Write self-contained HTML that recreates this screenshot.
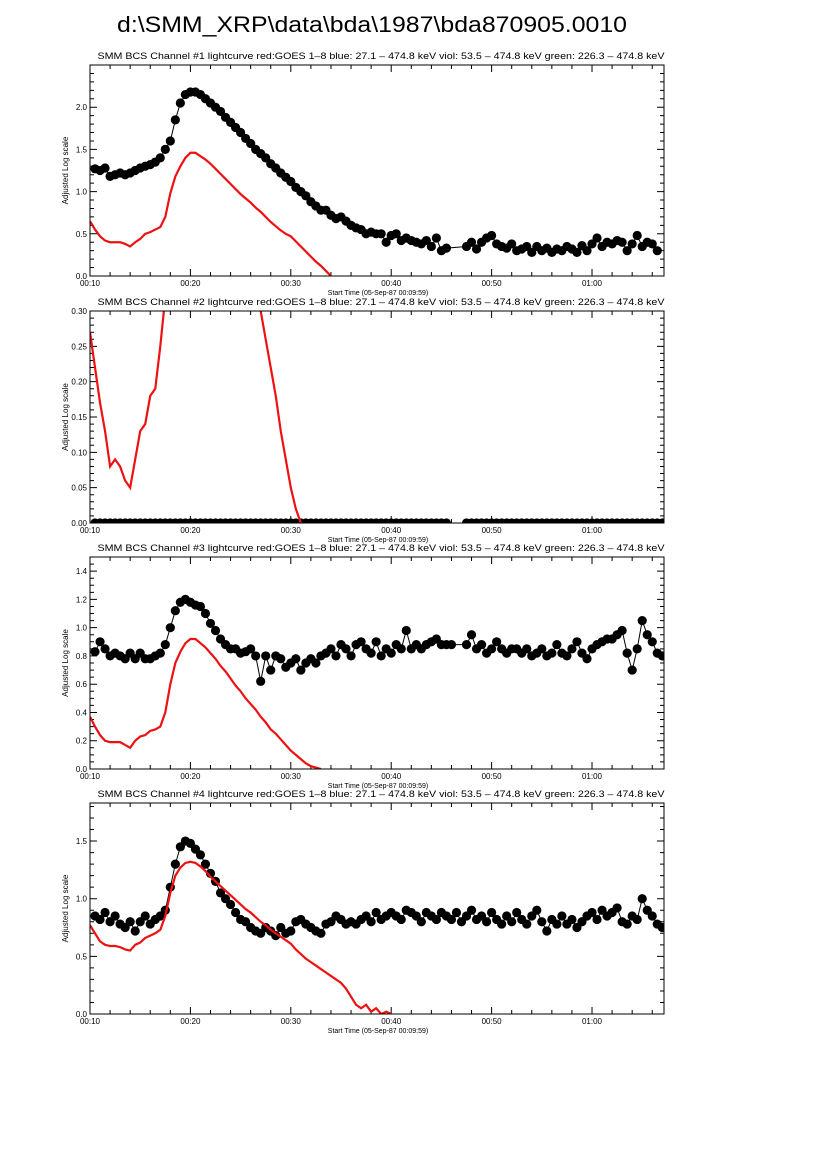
<!DOCTYPE html>
<html><head><meta charset="utf-8"><style>
html,body{margin:0;padding:0;background:#fff;}
svg{display:block;font-family:"Liberation Sans",sans-serif;}
</style></head><body>
<svg id="fig" width="826" height="1169" viewBox="0 0 826 1169">
<text x="372" y="32" font-size="22" text-anchor="middle" textLength="510" lengthAdjust="spacingAndGlyphs">d:\SMM_XRP\data\bda\1987\bda870905.0010</text>
</svg>
<script>
// ---- data (time in minutes after 00:00, values = adjusted log scale) ----
const blackT1 = [10.5,11,11.5,12,12.5,13,13.5,14,14.5,15,15.5,16,16.5,17,17.5,18,18.5,19,19.5,20,20.5,21,21.5,22,22.5,23,23.5,24,24.5,25,25.5,26,26.5,27,27.5,28,28.5,29,29.5,30,30.5,31,31.5,32,32.5,33,33.5,34,34.5,35,35.5,36,36.5,37,37.5,38,38.5,39,39.5,40,40.5,41,41.5,42,42.5,43,43.5,44,44.5,45,45.5,47.5,48,48.5,49,49.5,50,50.5,51,51.5,52,52.5,53,53.5,54,54.5,55,55.5,56,56.5,57,57.5,58,58.5,59,59.5,60,60.5,61,61.5,62,62.5,63,63.5,64,64.5,65,65.5,66,66.5];
const blackV1 = [1.27,1.25,1.28,1.18,1.2,1.22,1.2,1.22,1.25,1.28,1.3,1.32,1.35,1.4,1.5,1.6,1.85,2.05,2.15,2.18,2.18,2.15,2.1,2.05,2.0,1.95,1.88,1.82,1.76,1.7,1.63,1.57,1.5,1.45,1.4,1.33,1.28,1.22,1.17,1.12,1.05,1.0,0.95,0.88,0.83,0.78,0.78,0.72,0.68,0.7,0.65,0.6,0.57,0.55,0.5,0.52,0.5,0.5,0.4,0.48,0.5,0.42,0.45,0.42,0.4,0.38,0.42,0.35,0.45,0.3,0.33,0.35,0.4,0.32,0.4,0.45,0.48,0.38,0.35,0.33,0.38,0.3,0.32,0.35,0.28,0.35,0.3,0.33,0.28,0.32,0.3,0.35,0.32,0.28,0.36,0.3,0.38,0.45,0.35,0.4,0.38,0.42,0.4,0.3,0.38,0.48,0.35,0.4,0.38,0.3];
const redT1 = [10,10.5,11,11.5,12,12.5,13,13.5,14,14.5,15,15.5,16,16.5,17,17.5,18,18.5,19,19.5,20,20.5,21,21.5,22,22.5,23,23.5,24,24.5,25,25.5,26,26.5,27,27.5,28,28.5,29,29.5,30,30.5,31,31.5,32,32.5,33,33.5,34];
const redV1 = [0.65,0.55,0.47,0.42,0.40,0.40,0.40,0.38,0.35,0.40,0.44,0.50,0.52,0.55,0.58,0.70,0.98,1.18,1.30,1.40,1.46,1.46,1.42,1.38,1.33,1.27,1.21,1.15,1.09,1.03,0.97,0.92,0.87,0.81,0.76,0.70,0.64,0.59,0.54,0.50,0.47,0.41,0.35,0.29,0.23,0.17,0.12,0.06,0.0];

const blackT2 = [10.5,11,11.5,12,12.5,13,13.5,14,14.5,15,15.5,16,16.5,17,17.5,18,18.5,19,19.5,20,20.5,21,21.5,22,22.5,23,23.5,24,24.5,25,25.5,26,26.5,27,27.5,28,28.5,29,29.5,30,30.5,31,31.5,32,32.5,33,33.5,34,34.5,35,35.5,36,36.5,37,37.5,38,38.5,39,39.5,40,40.5,41,41.5,42,42.5,43,43.5,44,44.5,45,45.5,47.5,48,48.5,49,49.5,50,50.5,51,51.5,52,52.5,53,53.5,54,54.5,55,55.5,56,56.5,57,57.5,58,58.5,59,59.5,60,60.5,61,61.5,62,62.5,63,63.5,64,64.5,65,65.5,66,66.5,67];
const blackV2 = blackT2.map(() => 0);
const redT2 = [10,10.5,11,11.5,12,12.5,13,13.5,14,14.5,15,15.5,16,16.5,17,17.5,18,18.5,26.5,27,27.5,28,28.5,29,29.5,30,30.5,31];
const redV2 = [0.27,0.22,0.17,0.13,0.08,0.09,0.08,0.06,0.05,0.09,0.13,0.14,0.18,0.19,0.25,0.32,0.45,0.6,0.40,0.30,0.26,0.22,0.18,0.13,0.09,0.05,0.02,0.0];

const blackT3 = [10.5,11,11.5,12,12.5,13,13.5,14,14.5,15,15.5,16,16.5,17,17.5,18,18.5,19,19.5,20,20.5,21,21.5,22,22.5,23,23.5,24,24.5,25,25.5,26,26.5,27,27.5,28,28.5,29,29.5,30,30.5,31,31.5,32,32.5,33,33.5,34,34.5,35,35.5,36,36.5,37,37.5,38,38.5,39,39.5,40,40.5,41,41.5,42,42.5,43,43.5,44,44.5,45,45.5,46,47.5,48,48.5,49,49.5,50,50.5,51,51.5,52,52.5,53,53.5,54,54.5,55,55.5,56,56.5,57,57.5,58,58.5,59,59.5,60,60.5,61,61.5,62,62.5,63,63.5,64,64.5,65,65.5,66,66.5,67];
const blackV3 = [0.83,0.9,0.85,0.8,0.82,0.8,0.78,0.82,0.78,0.82,0.78,0.78,0.8,0.82,0.88,1.0,1.12,1.18,1.2,1.18,1.16,1.15,1.1,1.03,0.98,0.92,0.88,0.85,0.85,0.82,0.83,0.85,0.8,0.62,0.8,0.7,0.8,0.78,0.72,0.75,0.78,0.7,0.75,0.78,0.75,0.8,0.82,0.85,0.8,0.88,0.85,0.8,0.88,0.9,0.85,0.82,0.9,0.8,0.85,0.82,0.88,0.85,0.98,0.85,0.88,0.85,0.88,0.9,0.92,0.88,0.88,0.88,0.88,0.95,0.85,0.88,0.82,0.85,0.9,0.85,0.82,0.85,0.85,0.82,0.85,0.8,0.82,0.85,0.8,0.82,0.88,0.82,0.8,0.85,0.9,0.82,0.78,0.85,0.88,0.9,0.92,0.92,0.95,0.98,0.82,0.7,0.85,1.05,0.95,0.9,0.82,0.8];
const redT3 = [10,10.5,11,11.5,12,12.5,13,13.5,14,14.5,15,15.5,16,16.5,17,17.5,18,18.5,19,19.5,20,20.5,21,21.5,22,22.5,23,23.5,24,24.5,25,25.5,26,26.5,27,27.5,28,28.5,29,29.5,30,30.5,31,31.5,32,32.5,33];
const redV3 = [0.37,0.3,0.24,0.2,0.19,0.19,0.19,0.17,0.15,0.2,0.23,0.24,0.27,0.28,0.3,0.4,0.6,0.75,0.83,0.89,0.92,0.92,0.89,0.86,0.82,0.78,0.73,0.69,0.64,0.59,0.55,0.5,0.46,0.42,0.37,0.33,0.28,0.25,0.21,0.17,0.13,0.1,0.07,0.04,0.02,0.01,0.0];

const blackT4 = [10.5,11,11.5,12,12.5,13,13.5,14,14.5,15,15.5,16,16.5,17,17.5,18,18.5,19,19.5,20,20.5,21,21.5,22,22.5,23,23.5,24,24.5,25,25.5,26,26.5,27,27.5,28,28.5,29,29.5,30,30.5,31,31.5,32,32.5,33,33.5,34,34.5,35,35.5,36,36.5,37,37.5,38,38.5,39,39.5,40,40.5,41,41.5,42,42.5,43,43.5,44,44.5,45,45.5,46,46.5,47,47.5,48,48.5,49,49.5,50,50.5,51,51.5,52,52.5,53,53.5,54,54.5,55,55.5,56,56.5,57,57.5,58,58.5,59,59.5,60,60.5,61,61.5,62,62.5,63,63.5,64,64.5,65,65.5,66,66.5,67];
const blackV4 = [0.85,0.82,0.88,0.8,0.85,0.78,0.75,0.8,0.72,0.8,0.85,0.78,0.82,0.85,0.9,1.1,1.3,1.45,1.5,1.48,1.43,1.38,1.3,1.22,1.15,1.05,1.0,0.95,0.88,0.82,0.8,0.75,0.72,0.7,0.75,0.72,0.68,0.75,0.7,0.72,0.8,0.82,0.78,0.75,0.72,0.7,0.78,0.8,0.85,0.82,0.78,0.8,0.78,0.82,0.85,0.8,0.88,0.82,0.85,0.88,0.85,0.82,0.9,0.88,0.85,0.8,0.88,0.85,0.82,0.88,0.85,0.82,0.88,0.8,0.85,0.9,0.82,0.85,0.8,0.88,0.82,0.78,0.85,0.8,0.88,0.82,0.78,0.85,0.9,0.8,0.72,0.82,0.78,0.85,0.78,0.82,0.75,0.8,0.85,0.88,0.82,0.9,0.85,0.88,0.92,0.8,0.78,0.85,0.82,1.0,0.9,0.85,0.78,0.75];
const redT4 = [10,10.5,11,11.5,12,12.5,13,13.5,14,14.5,15,15.5,16,16.5,17,17.5,18,18.5,19,19.5,20,20.5,21,21.5,22,22.5,23,23.5,24,24.5,25,25.5,26,26.5,27,27.5,28,28.5,29,29.5,30,30.5,31,31.5,32,32.5,33,33.5,34,34.5,35,35.5,36,36.5,37,37.5,38,38.5,39,39.5,40];
const redV4 = [0.77,0.7,0.63,0.6,0.59,0.59,0.58,0.56,0.55,0.6,0.62,0.66,0.68,0.7,0.73,0.85,1.05,1.2,1.27,1.31,1.32,1.31,1.28,1.24,1.19,1.15,1.11,1.07,1.03,0.99,0.95,0.91,0.88,0.84,0.8,0.77,0.73,0.7,0.67,0.64,0.61,0.56,0.52,0.48,0.45,0.42,0.39,0.36,0.33,0.3,0.27,0.22,0.15,0.08,0.05,0.08,0.02,0.05,0.0,0.02,0.0];

const yTicks1 = ["0.0","0.5","1.0","1.5","2.0"];
const yTicks2 = ["0.00","0.05","0.10","0.15","0.20","0.25","0.30"];
const yTicks3 = ["0.0","0.2","0.4","0.6","0.8","1.0","1.2","1.4"];
const yTicks4 = ["0.0","0.5","1.0","1.5"];
const xTickLabels = ["00:10","00:20","00:30","00:40","00:50","01:00"];
const xTickMinutes = [10,20,30,40,50,60];

// ---- drawing ----
const NS = "http://www.w3.org/2000/svg";
const svg = document.getElementById("fig");
const X0 = 90, X1 = 664, TMIN = 10, TMAX = 67.17;
function mk(tag, attrs, parent) {
  const e = document.createElementNS(NS, tag);
  for (const k in attrs) e.setAttribute(k, attrs[k]);
  (parent || svg).appendChild(e);
  return e;
}
function xs(t) { return X0 + (t - TMIN) / (TMAX - TMIN) * (X1 - X0); }

const panels = [
  {n:1, top:65, bot:276, ymax:2.5, ticks:yTicks1, minor:0.1, bT:blackT1, bV:blackV1, rT:redT1, rV:redV1},
  {n:2, top:311, bot:523, ymax:0.3, ticks:yTicks2, minor:0.01, bT:blackT2, bV:blackV2, rT:redT2, rV:redV2},
  {n:3, top:557, bot:769, ymax:1.5, ticks:yTicks3, minor:0.05, bT:blackT3, bV:blackV3, rT:redT3, rV:redV3},
  {n:4, top:803, bot:1014, ymax:1.83, ticks:yTicks4, minor:0.1, bT:blackT4, bV:blackV4, rT:redT4, rV:redV4}
];

panels.forEach(p => {
  const g = mk("g", {});
  
  
  const ys = v => p.bot - v / p.ymax * (p.bot - p.top);
  const clipId = "clip" + p.n;
  const cp = mk("clipPath", {id: clipId}, g);
  mk("rect", {x: X0, y: p.top, width: X1 - X0, height: p.bot - p.top}, cp);

  const title = mk("text", {x: 381, y: p.top - 6, "font-size": 9, "text-anchor": "middle", textLength: 567, lengthAdjust: "spacingAndGlyphs"}, g);
  title.textContent = "SMM BCS Channel #" + p.n + " lightcurve  red:GOES 1\u20138  blue: 27.1 \u2013 474.8 keV  viol: 53.5 \u2013 474.8 keV  green: 226.3 \u2013 474.8 keV";
  
  

  // ticks
  let td = "";
  for (let t = 10; t <= TMAX + 0.01; t += 2) {
    const x = xs(t), L = (Math.round(t) % 10 === 0) ? 7 : 4;
    td += `M${x},${p.bot}v${-L}M${x},${p.top}v${L}`;
  }
  const nm = Math.round(p.ymax / p.minor);
  const majStep = parseFloat(p.ticks[1]);
  for (let i = 0; i <= nm; i++) {
    const v = i * p.minor, y = ys(v);
    const isMaj = Math.abs(v / majStep - Math.round(v / majStep)) < 1e-6;
    const L = isMaj ? 7 : 4;
    td += `M${X0},${y}h${L}M${X1},${y}h${-L}`;
  }
  const tk = mk("path", {d: td, stroke: "#000", "stroke-width": 1, fill: "none"}, g);
  
  

  p.ticks.forEach(s => {
    const tl = mk("text", {x: X0 - 3, y: ys(parseFloat(s)) + 3, "font-size": 8, "text-anchor": "end"}, g);
    tl.textContent = s;
    
    
  });
  xTickMinutes.forEach((m, i) => {
    const tl = mk("text", {x: xs(m), y: p.bot + 10, "font-size": 8, "text-anchor": "middle"}, g);
    tl.textContent = xTickLabels[i];
    
    
  });
  const xt = mk("text", {x: 378, y: p.bot + 19, "font-size": 7, "text-anchor": "middle"}, g);
  xt.textContent = "Start Time (05-Sep-87 00:09:59)";
  
  
  const yc = (p.top + p.bot) / 2;
  const yt = mk("text", {x: 68, y: yc, "font-size": 8, "text-anchor": "middle", transform: `rotate(-90 68 ${yc})`}, g);
  yt.textContent = "Adjusted Log scale";
  
  

  // series
  const dg = mk("g", {"clip-path": `url(#${clipId})`}, g);
  const bl = mk("polyline", {points: p.bT.map((t, i) => xs(t) + "," + ys(p.bV[i])).join(" "), fill: "none", stroke: "#000", "stroke-width": 1}, dg);
  
  
  p.bT.forEach((t, i) => {
    const c = mk("circle", {cx: xs(t), cy: ys(p.bV[i]), r: 4.6, fill: "#000"}, dg);
    
    
  });
  const rl = mk("polyline", {points: p.rT.map((t, i) => xs(t) + "," + ys(p.rV[i])).join(" "), fill: "none", stroke: "#ee1111", "stroke-width": 2.2}, dg);
  
  

  const fr = mk("rect", {x: X0, y: p.top, width: X1 - X0, height: p.bot - p.top, fill: "none", stroke: "#000", "stroke-width": 1}, g);
  
  
});
</script>
</body></html>
